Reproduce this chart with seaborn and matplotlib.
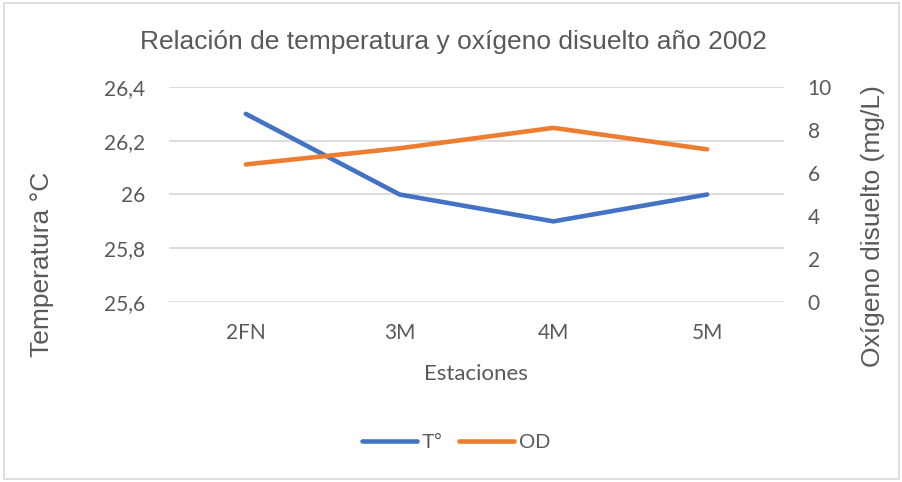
import matplotlib
matplotlib.use("Agg")
import matplotlib.pyplot as plt
from matplotlib.patches import Rectangle
from matplotlib.ticker import FuncFormatter, FixedLocator
import seaborn as sns
import pandas as pd

estaciones = ["2FN", "3M", "4M", "5M"]
temperatura = [26.3, 26.0, 25.9, 26.0]
oxigeno = [6.4, 7.15, 8.1, 7.1]

sns.set_theme(style="white")
plt.rcParams["font.family"] = ["Liberation Sans", "DejaVu Sans"]

TXT = "#595959"
GRID = "#D9D9D9"
BLUE = "#4472C4"
ORANGE = "#ED7D31"
TICKFONT = ["Lato", "DejaVu Sans"]

df = pd.DataFrame({"Estaciones": estaciones, "T°": temperatura, "OD": oxigeno})

W, H = 903, 482
fig = plt.figure(figsize=(W / 100, H / 100), dpi=100)
fig.patches.append(Rectangle((0.004, 0.006), 0.992, 0.988, transform=fig.transFigure,
                             fill=False, edgecolor=GRID, linewidth=1.2))
ax = fig.add_axes([169 / W, 1 - 302 / H, 615 / W, 215 / H])
ax2 = ax.twinx()

sns.lineplot(data=df, x="Estaciones", y="T°", ax=ax, color=BLUE, linewidth=3.3,
             sort=False, label="T°", legend=False, solid_capstyle="round")
sns.lineplot(data=df, x="Estaciones", y="OD", ax=ax2, color=ORANGE, linewidth=3.3,
             sort=False, label="OD", legend=False, solid_capstyle="round")

ax.set_xlim(-0.5, len(estaciones) - 0.5)
ax.set_ylim(25.6, 26.4)
ax.yaxis.set_major_locator(FixedLocator([25.6, 25.8, 26.0, 26.2, 26.4]))
ax.yaxis.set_major_formatter(FuncFormatter(lambda v, p: f"{v:g}".replace(".", ",")))
ax2.set_ylim(0, 10)
ax2.yaxis.set_major_locator(FixedLocator([0, 2, 4, 6, 8, 10]))

ax.grid(axis="y", color=GRID, linewidth=1.3)
ax.set_axisbelow(True)
for a in (ax, ax2):
    for s in a.spines.values():
        s.set_visible(False)
    a.tick_params(length=0, colors=TXT, labelsize=15)
    for lab in a.get_xticklabels() + a.get_yticklabels():
        lab.set_family(TICKFONT)
ax.tick_params(axis="y", pad=17)
ax.tick_params(axis="x", pad=15)
ax2.tick_params(axis="y", pad=17)
ax.set_xlabel("")
ax.set_ylabel("")
ax2.set_ylabel("")

fig.text(453 / W, 1 - 42 / H, "Relación de temperatura y oxígeno disuelto año 2002",
         ha="center", va="center", color=TXT, fontsize=19)
fig.text(476 / W, 1 - 374 / H, "Estaciones", ha="center", va="center",
         color=TXT, fontsize=16, family=TICKFONT)
fig.text(42 / W, 1 - 264 / H, "Temperatura °C", ha="center", va="center",
         rotation=90, color=TXT, fontsize=19)
fig.text(873 / W, 1 - 226 / H, "Oxígeno disuelto (mg/L)", ha="center", va="center",
         rotation=90, color=TXT, fontsize=19)

h1, l1 = ax.get_legend_handles_labels()
h2, l2 = ax2.get_legend_handles_labels()
fig.legend(h1 + h2, l1 + l2, loc="center", bbox_to_anchor=(456 / W, 1 - 443 / H), ncol=2,
           frameon=False, fontsize=15, labelcolor=TXT, handlelength=2.65,
           handletextpad=0.2, columnspacing=0.8)

fig.savefig("out.png", dpi=100)
